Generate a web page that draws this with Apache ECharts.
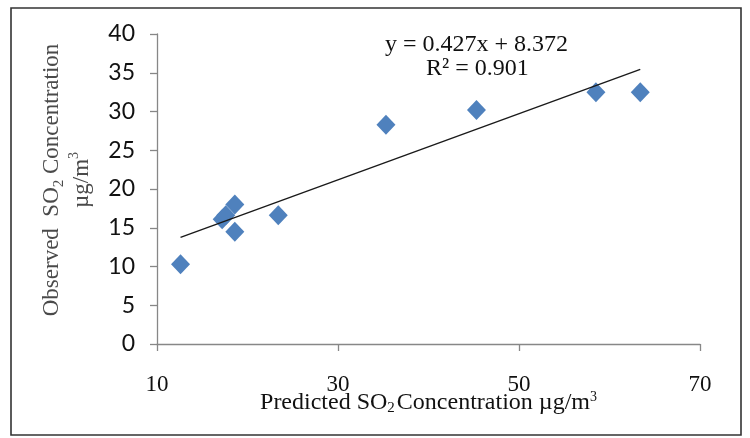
<!DOCTYPE html>
<html>
<head>
<meta charset="utf-8">
<script src="https://cdn.jsdelivr.net/npm/echarts@6/dist/echarts.min.js"></script>
<style>
  html, body { margin: 0; padding: 0; background: #fff; }
  #chart { width: 750px; height: 438px; }
</style>
</head>
<body>
<div id="chart"></div>
<script>
// predicted vs observed SO2 (µg/m3)
var predicted = [12.6, 17.2, 17.6, 18.6, 18.6, 23.4, 35.3, 45.3, 58.5, 63.4]
var observed = [10.3, 16.1, 16.6, 18.0, 14.5, 16.6, 28.3, 30.2, 32.5, 32.5]
var xTicks = [10, 30, 50, 70]
var yTicks = [0, 5, 10, 15, 20, 25, 30, 35, 40]
// trendline from the printed equation
var slope = 0.427
var intercept = 8.372
var rSquared = '0.901'

var myChart = echarts.init(document.getElementById('chart'))

var points = []
for (var i = 0; i < predicted.length; i++) {
    points.push([predicted[i], observed[i]])
}
var xMin = Math.min.apply(null, predicted)
var xMax = Math.max.apply(null, predicted)
var trend = [
    [xMin, slope * xMin + intercept],
    [xMax, slope * xMax + intercept]
]

var serif = '"Liberation Serif", "DejaVu Serif", serif'
var option = {
    animation: false,
    backgroundColor: '#fff',
    grid: {left: 157, right: 50, top: 34, bottom: 94},
    xAxis: {
        type: 'value',
        min: xTicks[0],
        max: xTicks[xTicks.length - 1],
        interval: 20,
        splitLine: {show: false},
        axisLine: {onZero: false, lineStyle: {color: '#878787', width: 1.3}},
        axisTick: {show: true, length: 7, lineStyle: {color: '#878787', width: 1.3}},
        axisLabel: {margin: 29, fontFamily: serif, fontSize: 23, color: '#111'},
        name: '{t|Predicted SO}{s|2}{t|Concentration µg/m}{p|3}',
        nameLocation: 'middle',
        nameMoveOverlap: false,
        nameGap: 46,
        nameTextStyle: {
            rich: {
                t: {fontFamily: serif, fontSize: 24, color: '#111', lineHeight: 26},
                s: {fontFamily: serif, fontSize: 15, color: '#111', lineHeight: 26, verticalAlign: 'bottom', padding: [0, 2, 0, 0]},
                p: {fontFamily: serif, fontSize: 14, color: '#111', lineHeight: 26, verticalAlign: 'top'}
            }
        }
    },
    yAxis: {
        type: 'value',
        min: yTicks[0],
        max: yTicks[yTicks.length - 1],
        interval: 5,
        splitLine: {show: false},
        axisLine: {show: true, lineStyle: {color: '#878787', width: 1.3}},
        axisTick: {show: true, length: 7, lineStyle: {color: '#878787', width: 1.3}},
        axisLabel: {margin: 22, fontFamily: 'Lato, "Liberation Sans", sans-serif', fontSize: 23, color: '#111'},
        name: '{t|Observed  SO}{s|2}{t| Concentration}\n{t|µg/m}{p|3}',
        nameLocation: 'middle',
        nameMoveOverlap: false,
        nameRotate: 90,
        nameGap: 60,
        nameTextStyle: {
            padding: [0, 0, 0, 18],
            rich: {
                t: {fontFamily: serif, fontSize: 23, color: '#4a4a4a', lineHeight: 30},
                s: {fontFamily: serif, fontSize: 15, color: '#4a4a4a', lineHeight: 30, verticalAlign: 'bottom'},
                p: {fontFamily: serif, fontSize: 14, color: '#4a4a4a', lineHeight: 30, verticalAlign: 'top'}
            }
        }
    },
    graphic: [
        {
            type: 'rect',
            shape: {x: 11, y: 8, width: 730, height: 427},
            style: {fill: 'none', stroke: '#333', lineWidth: 1.6},
            silent: true
        },
        {
            type: 'text',
            left: 385,
            top: 33,
            style: {
                text: 'y = ' + slope + 'x + ' + intercept,
                font: '24px ' + serif,
                fill: '#111'
            }
        },
        {
            type: 'text',
            left: 426,
            top: 57,
            style: {
                text: 'R² = ' + rSquared,
                font: '24px ' + serif,
                fill: '#111'
            }
        }
    ],
    series: [
        {
            type: 'line',
            data: trend,
            symbol: 'none',
            lineStyle: {color: '#1a1a1a', width: 1.4},
            z: 3
        },
        {
            type: 'scatter',
            data: points,
            symbol: 'diamond',
            symbolSize: [19, 20],
            itemStyle: {color: '#4F81BD', opacity: 1},
            z: 2
        }
    ]
}
myChart.setOption(option)
</script>
</body>
</html>
